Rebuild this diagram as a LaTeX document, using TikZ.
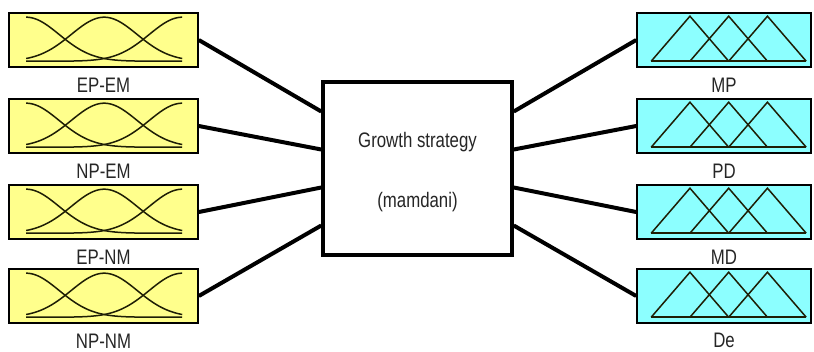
\documentclass[tikz,border=0pt]{standalone}
\usepackage{fontspec}
\setmainfont{Liberation Sans}[FakeStretch=0.8]
\usetikzlibrary{calc}
\definecolor{inyellow}{RGB}{255,255,140}
\definecolor{outcyan}{RGB}{140,255,255}
\definecolor{mfline}{RGB}{30,30,5}
\tikzset{
  inbox/.style={draw=black, line width=1.6pt, fill=inyellow, minimum width=189pt, minimum height=54pt, inner sep=0pt},
  outbox/.style={draw=black, line width=1.6pt, fill=outcyan, minimum width=174pt, minimum height=54pt, inner sep=0pt},
  fisbox/.style={draw=black, line width=3.5pt, fill=white, minimum width=189pt, minimum height=173pt, inner sep=0pt},
  varlabel/.style={font=\fontsize{21}{23}\selectfont, text=black!85, inner sep=0pt},
  link/.style={line width=4pt},
  mf/.style={draw=mfline, line width=1.5pt},
}
\begin{document}
\begin{tikzpicture}[x=1pt, y=-1pt]
\useasboundingbox (0,0) rectangle (814,351);

% central inference system
\node[fisbox] (c) at (417.5,168.5) {};
\node[varlabel] (t1) at (417.5,142) {Growth strategy};
\node[varlabel] (t2) at (417.5,202) {(mamdani)};

% input variables
\foreach \n/\yc/\txt in {i1/40/EP-EM, i2/126/NP-EM, i3/212/EP-NM, i4/296/NP-NM}{
  \node[inbox] (\n) at (103.5,\yc) {};
  \begin{scope}[shift={(\n.north west)}]
    \foreach \m in {18,96,174}{
      \draw[mf] plot[domain=18:174, samples=90, smooth]
        (\x, {49-44*exp(-0.5*((\x-\m)/33)*((\x-\m)/33))});
    }
  \end{scope}
  \node[varlabel] (\n l) at ($(\n.south)+(0,17)$) {\txt};
}

% output variables
\foreach \n/\yc/\txt in {o1/40/MP, o2/126/PD, o3/212/MD, o4/296/De}{
  \node[outbox] (\n) at (724,\yc) {};
  \begin{scope}[shift={(\n.north west)}]
    \draw[mf] (15,49) -- (53.75,4) -- (92.5,49);
    \draw[mf] (53.75,49) -- (92.5,4) -- (131.25,49);
    \draw[mf] (92.5,49) -- (131.25,4) -- (170,49);
    \draw[mf] (15,49) -- (170,49);
  \end{scope}
  \node[varlabel] (\n l) at ($(\n.south)+(0,17)$) {\txt};
}

% connectors
\draw[link] (i1.east) -- ([yshift=57pt]c.west);
\draw[link] (i2.east) -- ([yshift=19pt]c.west);
\draw[link] (i3.east) -- ([yshift=-19pt]c.west);
\draw[link] (i4.east) -- ([yshift=-57pt]c.west);
\draw[link] ([yshift=57pt]c.east) -- (o1.west);
\draw[link] ([yshift=19pt]c.east) -- (o2.west);
\draw[link] ([yshift=-19pt]c.east) -- (o3.west);
\draw[link] ([yshift=-57pt]c.east) -- (o4.west);
\end{tikzpicture}
\end{document}
